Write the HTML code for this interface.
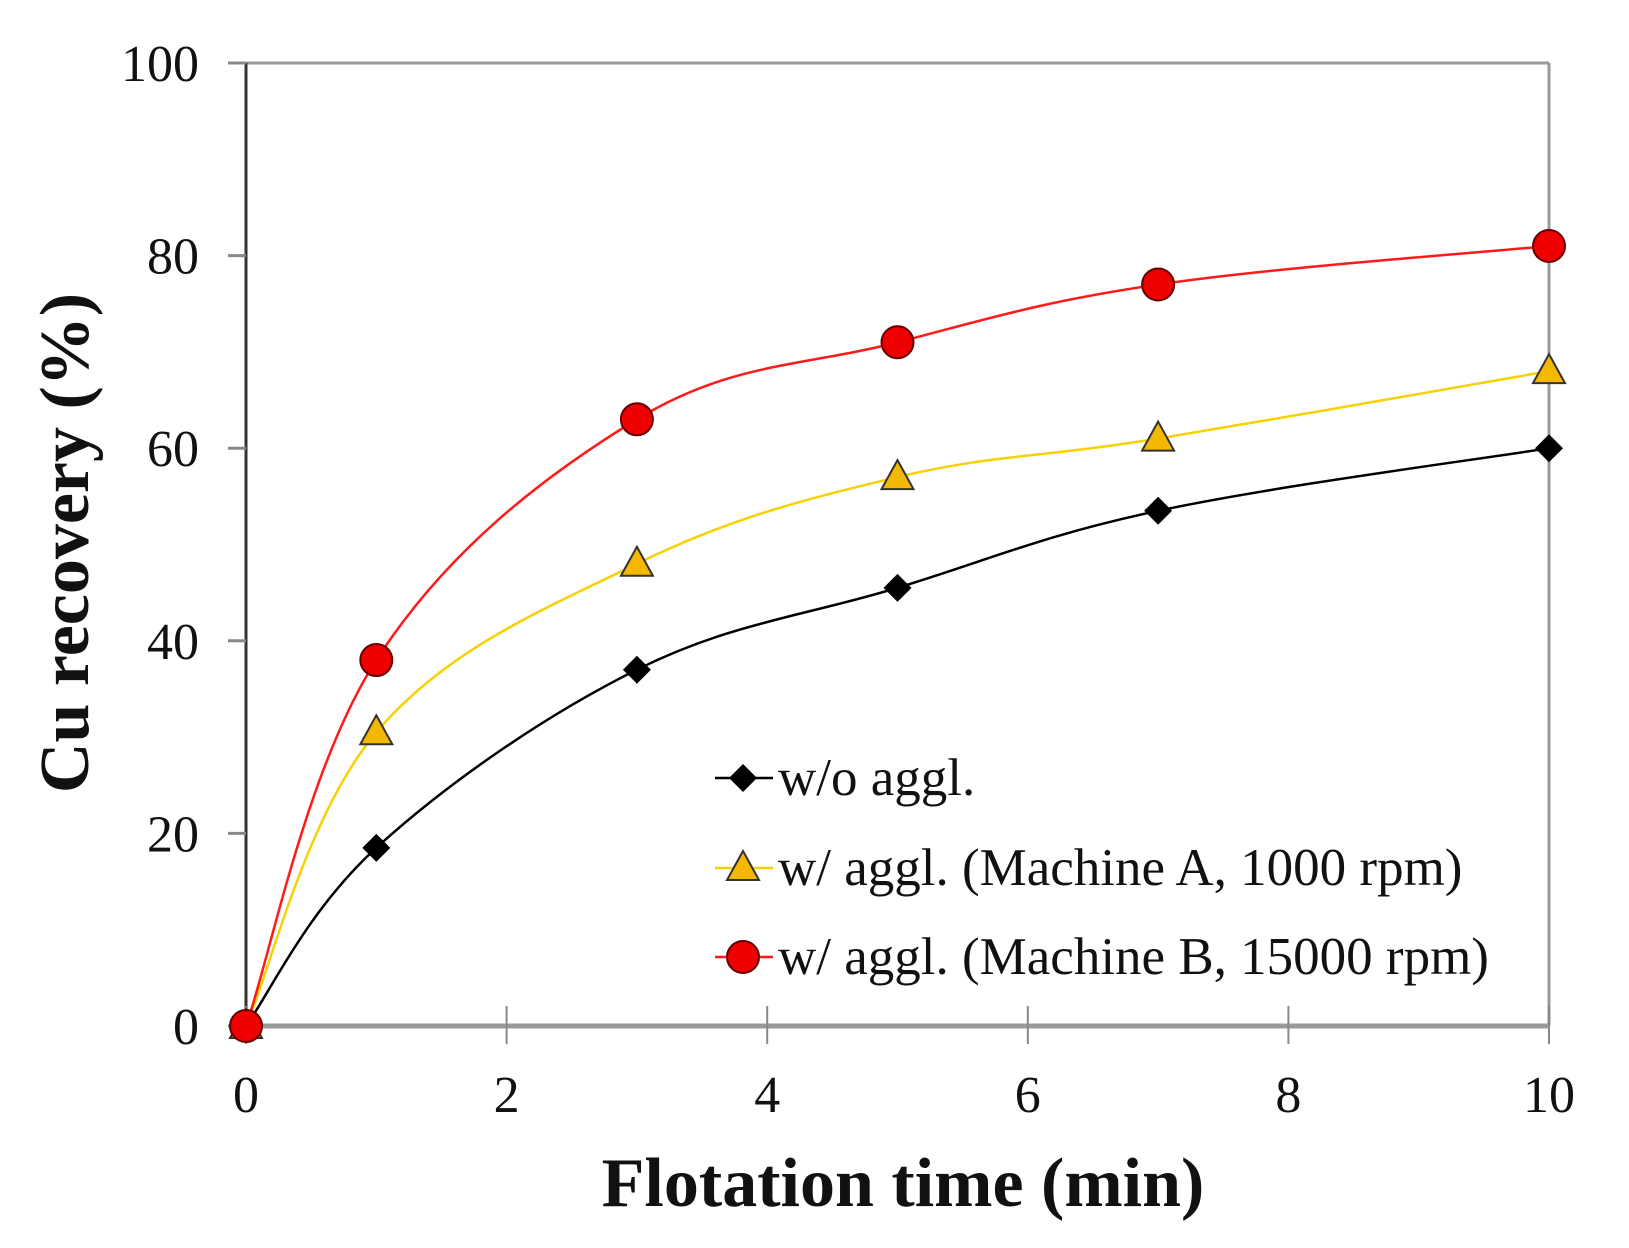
<!DOCTYPE html>
<html><head><meta charset="utf-8"><style>
html,body{margin:0;padding:0;background:#fff}
svg{display:block}
text{font-family:"Liberation Serif",serif;fill:#111}
</style></head><body>
<svg id="chart" width="1629" height="1248" viewBox="0 0 1629 1248"></svg>
<script>
const times=[0,1,3,5,7,10];
const seriesNoAggl=[0,18.5,37,45.5,53.5,60];
const seriesMachineA=[0,30.5,48,57,61,68];
const seriesMachineB=[0,38,63,71,77,81];
const xTicks=[0,2,4,6,8,10];
const yTicks=[0,20,40,60,80,100];
const legendLabels=["w/o aggl.","w/ aggl. (Machine A, 1000 rpm)","w/ aggl. (Machine B, 15000 rpm)"];

const X0=246,X1=1549,Y0=1026,Y1=63;
const sx=v=>X0+(X1-X0)*v/10;
const sy=v=>Y0-(Y0-Y1)*v/100;
const svg=document.getElementById('chart');
const NS='http://www.w3.org/2000/svg';
function mk(tag,attrs,parent){const e=document.createElementNS(NS,tag);for(const k in attrs)e.setAttribute(k,attrs[k]);(parent||svg).appendChild(e);return e;}

let e;
e=mk('line',{x1:X0,y1:Y1,x2:X1,y2:Y1,stroke:'#999','stroke-width':3});

e=mk('line',{x1:X1,y1:Y1,x2:X1,y2:Y0,stroke:'#999','stroke-width':3});

e=mk('line',{x1:X0,y1:Y0,x2:X1,y2:Y0,stroke:'#999','stroke-width':5});

e=mk('line',{x1:X0,y1:Y1,x2:X0,y2:Y0,stroke:'#333','stroke-width':3});


yTicks.forEach(v=>{
  const t=mk('line',{x1:X0-18,y1:sy(v),x2:X0,y2:sy(v),stroke:'#888','stroke-width':3});
  
  const l=mk('text',{x:X0-47,y:sy(v)+18,'text-anchor':'end','font-size':52});
  l.textContent=v;
  
});
xTicks.forEach(v=>{
  const t=mk('line',{x1:sx(v),y1:Y0-20,x2:sx(v),y2:Y0+18,stroke:'#888','stroke-width':2});
  
  const l=mk('text',{x:sx(v),y:Y0+86,'text-anchor':'middle','font-size':52});
  l.textContent=v;
  
});

e=mk('text',{x:903,y:1206,'text-anchor':'middle','font-size':70,'font-weight':'bold'});
e.textContent='Flotation time  (min)';

e=mk('text',{x:0,y:0,'text-anchor':'middle','font-size':70,'font-weight':'bold',transform:'translate(88,543) rotate(-90)'});
e.textContent='Cu recovery (%)';


function smoothPath(xs,ys){
  const p=xs.map((x,i)=>[sx(x),sy(ys[i])]);
  let d='M'+p[0][0]+','+p[0][1];
  for(let i=0;i<p.length-1;i++){
    const p0=p[Math.max(i-1,0)],p1=p[i],p2=p[i+1],p3=p[Math.min(i+2,p.length-1)];
    const t=0.18;
    const c1=[p1[0]+(p2[0]-p0[0])*t,p1[1]+(p2[1]-p0[1])*t];
    const c2=[p2[0]-(p3[0]-p1[0])*t,p2[1]-(p3[1]-p1[1])*t];
    d+=` C${c1[0]},${c1[1]} ${c2[0]},${c2[1]} ${p2[0]},${p2[1]}`;
  }
  return d;
}
function marker(type,cx,cy,name){
  let m;
  if(type==='diamond') m=mk('polygon',{points:`${cx},${cy-14} ${cx+14},${cy} ${cx},${cy+14} ${cx-14},${cy}`,fill:'#000'});
  else if(type==='tri') m=mk('polygon',{points:`${cx},${cy-17} ${cx+16},${cy+12} ${cx-16},${cy+12}`,fill:'#f5b800',stroke:'#333','stroke-width':2});
  else m=mk('circle',{cx:cx,cy:cy,r:16,fill:'#ee0000',stroke:'#600','stroke-width':2});
  
}
const series=[
  [seriesNoAggl,'#000','diamond','no-aggl'],
  [seriesMachineA,'#f7d200','tri','machine-a'],
  [seriesMachineB,'#ff1a1a','circle','machine-b']];
series.forEach(([vals,col,type,name])=>{
  const p=mk('path',{d:smoothPath(times,vals),fill:'none',stroke:col,'stroke-width':2.5});
  
});
series.forEach(([vals,col,type,name])=>{
  vals.forEach((v,i)=>marker(type,sx(times[i]),sy(v),name+'-point'));
});

const legY=[778,868,957];
series.forEach(([vals,col,type,name],i)=>{
  const l=mk('line',{x1:715,y1:legY[i],x2:773,y2:legY[i],stroke:col,'stroke-width':2.5});
  
  marker(type,743,legY[i],'legend-marker');
  const t=mk('text',{x:778,y:legY[i]+17,'font-size':53});
  t.textContent=legendLabels[i];
  
});
</script>
</body></html>
